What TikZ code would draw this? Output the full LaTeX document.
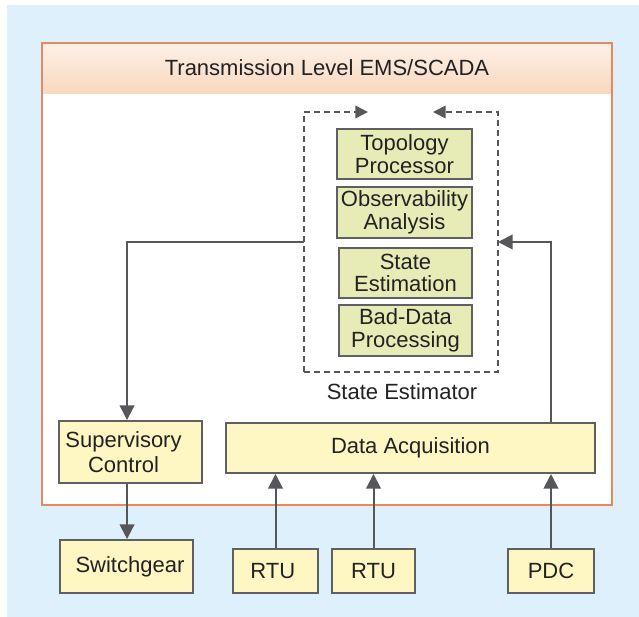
\documentclass[tikz,border=0pt]{standalone}
\usepackage{fontspec}
\setmainfont{Liberation Sans}
\usetikzlibrary{arrows.meta,positioning}
\definecolor{bgblue}{HTML}{DDF0FB}
\definecolor{boxyellow}{HTML}{FEF7C4}
\definecolor{boxgreen}{HTML}{E7ECB7}
\definecolor{edgegray}{HTML}{5F6062}
\definecolor{arrgray}{HTML}{55575A}
\definecolor{dashgray}{HTML}{7A7B7D}
\definecolor{outerorange}{HTML}{E38B5F}
\definecolor{headtop}{HTML}{FDF0E8}
\definecolor{headbot}{HTML}{F8D8BE}
\definecolor{txt}{HTML}{222222}
\definecolor{shadowc}{HTML}{E6EDF2}
\tikzset{
  ybox/.style={draw=edgegray, line width=1.5pt, fill=boxyellow, text=txt, inner sep=0pt, align=center,
    font=\fontsize{16.5}{18}\selectfont},
  gbox/.style={draw=edgegray, line width=1.2pt, fill=boxgreen, text=txt, inner sep=0pt, align=center,
    font=\fontsize{16.5}{17}\selectfont},
  arr/.style={draw=arrgray, line width=1.5pt, -{Triangle[length=11pt,width=11pt]}},
  dashline/.style={draw=dashgray, line width=1.1pt, dash pattern=on 4.5pt off 3pt},
  smallarr/.style={-{Triangle[length=9.5pt,width=9.5pt]}, arrgray},
  lbl/.style={text=txt, font=\fontsize{16.5}{18}\selectfont, inner sep=0pt}
}
\begin{document}
\begin{tikzpicture}[x=0.75pt,y=-0.75pt]
\useasboundingbox (0,0) rectangle (639,617);
% background
\fill[white] (0,0) rectangle (639,617);
\fill[bgblue] (7,5) rectangle (639,617);
% outer box
\fill[shadowc] (46,47) rectangle (616,509);
\fill[white] (42,43) rectangle (612,505);
\shade[top color=headtop, bottom color=headbot] (42,43) rectangle (612,94);
\draw[outerorange, line width=1.1pt] (42,43) rectangle (612,505);
\node[lbl] (title) at (327,68) {Transmission Level EMS/SCADA};

% state estimator
\coordinate (seTL) at (304,112);
\coordinate (seBR) at (498,372);
\coordinate (seL) at (304,242);
\coordinate (seR) at (498,242);
\coordinate (seA) at (368,112);
\coordinate (seB) at (433,112);
\draw[dashline, smallarr] (seTL |- seBR) -- (seTL) -- (seA);
\draw[dashline, smallarr] (seTL |- seBR) -- (seBR) -- (seBR |- seTL) -- (seB);
\node[lbl] (selabel) at (402,392) {State Estimator};

\node[gbox, minimum width=101.25pt, minimum height=37.5pt] (topo) at (404.5,154) {Topology\\Processor};
\node[gbox, minimum width=101.25pt, minimum height=38.25pt] (obs) at (404.5,212.5) {Observability\\Analysis};
\node[gbox, minimum width=99.75pt, minimum height=37.5pt] (est) at (405.5,273) {State\\Estimation};
\node[gbox, minimum width=99.75pt, minimum height=38.25pt] (bad) at (405.5,330.5) {Bad-Data\\Processing};

% lower boxes
\node[ybox, minimum width=107.25pt, minimum height=46.5pt, font=\fontsize{16.5}{19}\selectfont] (sup) at (130.5,452) {\hspace*{-10.5pt}Supervisory\\\hspace*{-10.5pt}Control};
\node[ybox, minimum width=276.75pt, minimum height=37.5pt] (daq) at (410.5,448) {Data Acquisition};
\node[ybox, minimum width=99.75pt, minimum height=39.75pt] (sw) at (126.5,566.5) {\hspace*{5.2pt}Switchgear};
\node[ybox, minimum width=63.75pt, minimum height=33pt] (rtu1) at (275.5,571) {\hspace*{-4pt}RTU};
\node[ybox, minimum width=62.25pt, minimum height=33pt] (rtu2) at (373.5,571) {RTU};
\node[ybox, minimum width=64.5pt, minimum height=33pt] (pdc) at (551,571) {PDC};

% connectors
\draw[arr] (seL) -| ([xshift=-2.6pt]sup.north);
\draw[arr] ([xshift=-2.6pt]sup.south) -- ([xshift=-2.6pt]sup.south |- sw.north);
\draw[arr] (rtu1.north) -- (rtu1.north |- daq.south);
\draw[arr] (rtu2.north) -- (rtu2.north |- daq.south);
\draw[arr] (pdc.north) -- (pdc.north |- daq.south);
\draw[arr] (daq.north -| pdc.north) |- (seR);
\end{tikzpicture}
\end{document}
